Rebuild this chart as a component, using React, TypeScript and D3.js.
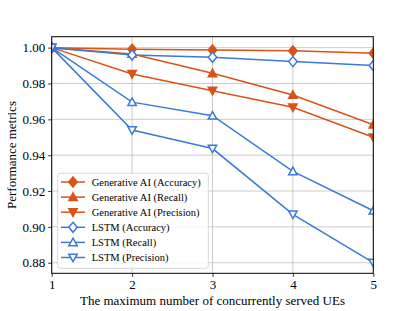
import React, { useEffect, useRef } from "react";
import * as d3 from "d3";

const xValues = [1, 2, 3, 4, 5];
const genAccuracy = [1.0, 0.9991, 0.9987, 0.9982, 0.9969];
const genRecall = [1.0, 0.9965, 0.9857, 0.9736, 0.957];
const genPrecision = [1.0, 0.9853, 0.976, 0.9667, 0.95];
const lstmAccuracy = [1.0, 0.9959, 0.9946, 0.9922, 0.99];
const lstmRecall = [1.0, 0.9696, 0.962, 0.931, 0.909];
const lstmPrecision = [1.0, 0.954, 0.9437, 0.907, 0.88];
const yTicks = [0.88, 0.9, 0.92, 0.94, 0.96, 0.98, 1.0];

const RED = "#D95319";
const BLUE = "#3a7ad8";

const series = [
  { name: "Generative AI (Accuracy)", values: genAccuracy, color: RED, marker: "diamond", filled: true },
  { name: "Generative AI (Recall)", values: genRecall, color: RED, marker: "up", filled: true },
  { name: "Generative AI (Precision)", values: genPrecision, color: RED, marker: "down", filled: true },
  { name: "LSTM (Accuracy)", values: lstmAccuracy, color: BLUE, marker: "diamond", filled: false },
  { name: "LSTM (Recall)", values: lstmRecall, color: BLUE, marker: "up", filled: false },
  { name: "LSTM (Precision)", values: lstmPrecision, color: BLUE, marker: "down", filled: false },
];

function markerPath(kind: string) {
  const r = 4.2;
  if (kind === "diamond") return `M0,${-r - 0.8}L${r},0L0,${r + 0.8}L${-r},0Z`;
  if (kind === "up") return `M0,${-r}L${r},${r * 0.8}L${-r},${r * 0.8}Z`;
  return `M0,${r}L${r},${-r * 0.8}L${-r},${-r * 0.8}Z`;
}

const App = () => {
  const ref = useRef<SVGSVGElement>(null);

  useEffect(() => {
    const svg = d3.select(ref.current);
    svg.selectAll("*").remove();

    const width = 415;
    const height = 311;
    const margin = { top: 36.7, right: 41.7, bottom: 37.7, left: 51.7 };
    const font = "Liberation Serif, serif";

    const x = d3
      .scaleLinear()
      .domain([1, 5])
      .range([margin.left, width - margin.right]);
    const y = d3
      .scaleLinear()
      .domain([0.8741, 1.0061])
      .range([height - margin.bottom, margin.top]);

    svg.attr("viewBox", [0, 0, width, height]);

    svg
      .append("defs")
      .append("clipPath")
      .attr("id", "plot-clip")
      .append("rect")
      .attr("x", margin.left)
      .attr("y", margin.top)
      .attr("width", width - margin.left - margin.right)
      .attr("height", height - margin.top - margin.bottom);

    // grid
    const grid = svg.append("g").attr("stroke", "#b0b0b0").attr("stroke-opacity", 0.65).attr("stroke-width", 1);
    grid
      .selectAll("line.gx")
      .data(xValues)
      .join("line")
      .attr("x1", (d) => x(d))
      .attr("x2", (d) => x(d))
      .attr("y1", margin.top)
      .attr("y2", height - margin.bottom);
    grid
      .selectAll("line.gy")
      .data(yTicks)
      .join("line")
      .attr("x1", margin.left)
      .attr("x2", width - margin.right)
      .attr("y1", (d) => y(d))
      .attr("y2", (d) => y(d));

    const plot = svg.append("g").attr("clip-path", "url(#plot-clip)");
    const line = d3
      .line<number>()
      .x((_, i) => x(xValues[i]))
      .y((d) => y(d));

    series.forEach((s) => {
      plot
        .append("path")
        .datum(s.values)
        .attr("d", line)
        .attr("fill", "none")
        .attr("stroke", s.color)
        .attr("stroke-width", 1.5);
      plot
        .append("g")
        .selectAll("path")
        .data(s.values)
        .join("path")
        .attr("transform", (d, i) => `translate(${x(xValues[i])},${y(d)})`)
        .attr("d", markerPath(s.marker))
        .attr("fill", s.filled ? s.color : "#fff")
        .attr("stroke", s.color)
        .attr("stroke-width", 1.5);
    });

    // axes
    const xAxis = svg
      .append("g")
      .attr("transform", `translate(0,${height - margin.bottom})`)
      .call(d3.axisBottom(x).tickValues(xValues).tickFormat(d3.format("d")).tickSize(3.5).tickPadding(3));
    const yAxis = svg
      .append("g")
      .attr("transform", `translate(${margin.left},0)`)
      .call(d3.axisLeft(y).tickValues(yTicks).tickFormat(d3.format(".2f")).tickSize(3.5).tickPadding(3));
    [xAxis, yAxis].forEach((a) => {
      a.attr("font-family", font).attr("font-size", 13);
      a.select(".domain").remove();
      a.selectAll("text").attr("fill", "#000");
      a.selectAll("line").attr("stroke", "#000").attr("stroke-width", 0.8);
    });

    svg
      .append("rect")
      .attr("x", margin.left)
      .attr("y", margin.top)
      .attr("width", width - margin.left - margin.right)
      .attr("height", height - margin.top - margin.bottom)
      .attr("fill", "none")
      .attr("stroke", "#000")
      .attr("stroke-width", 1);

    svg
      .append("text")
      .attr("x", (margin.left + width - margin.right) / 2)
      .attr("y", 305)
      .attr("text-anchor", "middle")
      .attr("font-family", font)
      .attr("font-size", 13)
      .text("The maximum number of concurrently served UEs");

    svg
      .append("text")
      .attr("transform", `translate(16,${(margin.top + height - margin.bottom) / 2}) rotate(-90)`)
      .attr("text-anchor", "middle")
      .attr("font-family", font)
      .attr("font-size", 13)
      .text("Performance metrics");

    // legend
    const legend = svg.append("g").attr("transform", "translate(57.7,173.3)");
    legend
      .append("rect")
      .attr("width", 150.6)
      .attr("height", 95)
      .attr("rx", 2.5)
      .attr("fill", "#fff")
      .attr("fill-opacity", 0.8)
      .attr("stroke", "#d0d0d0")
      .attr("stroke-width", 0.8);
    const items = legend
      .selectAll("g.item")
      .data(series)
      .join("g")
      .attr("transform", (_, i) => `translate(0,${8.7 + i * 15.1})`);
    items
      .append("line")
      .attr("x1", 3.3)
      .attr("x2", 27.3)
      .attr("stroke", (d) => d.color)
      .attr("stroke-width", 1.5);
    items
      .append("path")
      .attr("transform", "translate(15.3,0)")
      .attr("d", (d) => markerPath(d.marker))
      .attr("fill", (d) => (d.filled ? d.color : "#fff"))
      .attr("stroke", (d) => d.color)
      .attr("stroke-width", 1.5);
    items
      .append("text")
      .attr("x", 34)
      .attr("dy", "0.35em")
      .attr("font-family", font)
      .attr("font-size", 10.5)
      .text((d) => d.name);
  }, []);

  return <svg ref={ref} width={415} height={311} style={{ position: "absolute", left: 0, top: 0 }}></svg>;
};

export default App;
